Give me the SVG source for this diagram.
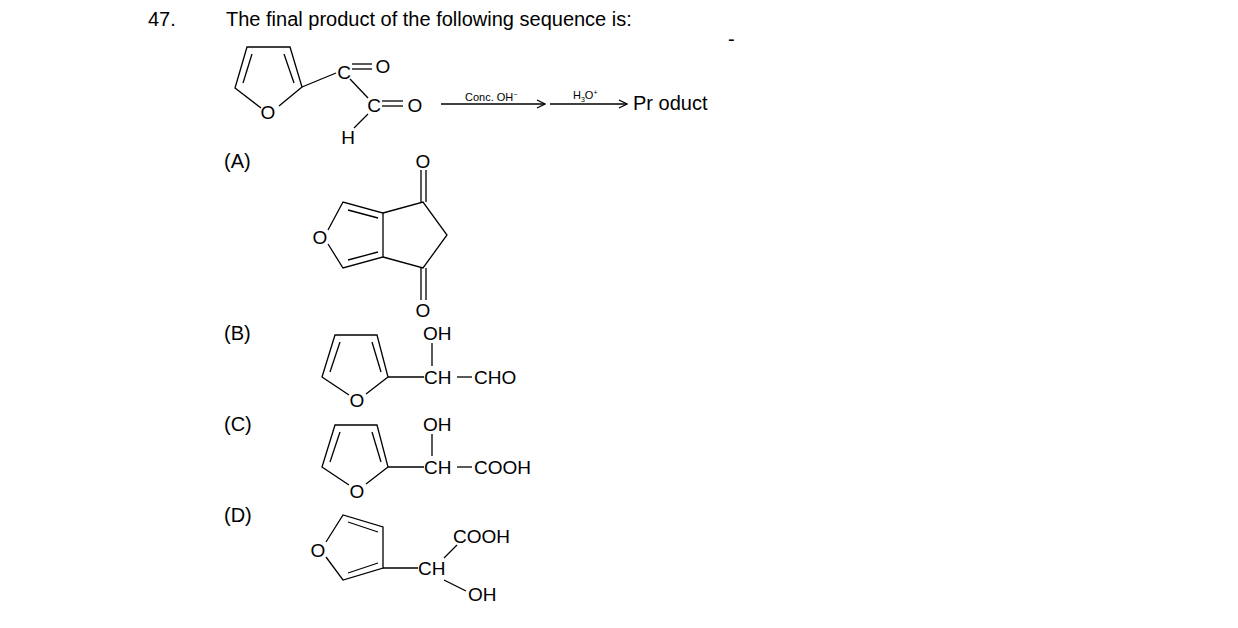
<svg xmlns="http://www.w3.org/2000/svg" width="1238" height="628" viewBox="0 0 1238 628">
<style>
text{font-family:"Liberation Sans",Arial,sans-serif;fill:#000}
.t{font-size:20px}
.c{font-size:19px}
.s{font-size:11px}
line,polyline,path{stroke:#000;stroke-width:1.3;fill:none}
</style>
<defs><marker id="ah" markerWidth="10" markerHeight="10" refX="9" refY="5" orient="auto" markerUnits="userSpaceOnUse"><path d="M1,1 L9,5 L1,9"/></marker></defs>
<rect width="1238" height="628" fill="#fff"/>
<g id="header"><text class="t" x="148" y="26">47.</text><text class="t" x="226" y="26">The final product of the following sequence is:</text><text class="t" x="728" y="46">-</text></g>
<g id="reactant">
<polyline points="261,108 235,88 247,47 290,47 302,87 279,106"/>
<line x1="252" y1="54" x2="243" y2="83"/><line x1="284" y1="54" x2="294" y2="83"/>
<text class="c" x="268" y="119" text-anchor="middle">O</text>
<line x1="302" y1="87" x2="336" y2="73"/>
<text class="c" x="344" y="79" text-anchor="middle">C</text>
<line x1="352" y1="64" x2="372" y2="64"/><line x1="352" y1="69" x2="372" y2="69"/>
<text class="c" x="383" y="73" text-anchor="middle">O</text>
<line x1="350" y1="79" x2="368" y2="98"/>
<text class="c" x="374" y="112" text-anchor="middle">C</text>
<line x1="382" y1="101" x2="403" y2="101"/><line x1="382" y1="106" x2="403" y2="106"/>
<text class="c" x="415" y="112" text-anchor="middle">O</text>
<line x1="354" y1="128" x2="368" y2="114"/>
<text class="c" x="348" y="144" text-anchor="middle">H</text>
</g>
<g id="connectors">
<line x1="441" y1="104" x2="545" y2="104" marker-end="url(#ah)"/>
<line x1="550" y1="104" x2="627" y2="104" marker-end="url(#ah)"/>
</g>
<g id="reagents">
<text class="s" x="465" y="101">Conc. OH<tspan dy="-4" font-size="7">−</tspan></text>
<text class="s" x="573" y="99">H<tspan dy="3" font-size="7">3</tspan><tspan dy="-3">O</tspan><tspan dy="-4" font-size="7">+</tspan></text>
<text class="t" x="633" y="110">Pr oduct</text>
</g>
<g id="optA">
<text class="t" x="224" y="168">(A)</text>
<text class="c" x="320" y="244" text-anchor="middle">O</text>
<polyline points="328,230 343,202 383,213 383,257 343,268 328,244"/>
<line x1="348" y1="210" x2="378" y2="218"/><line x1="348" y1="260" x2="378" y2="252"/>
<polyline points="383,213 423,202 447,235 423,268 383,257"/>
<line x1="421" y1="202" x2="421" y2="170"/><line x1="426" y1="202" x2="426" y2="170"/>
<line x1="421" y1="268" x2="421" y2="300"/><line x1="426" y1="268" x2="426" y2="300"/>
<text class="c" x="423" y="168" text-anchor="middle">O</text>
<text class="c" x="423" y="317" text-anchor="middle">O</text>
</g>
<g id="optB">
<text class="t" x="224" y="340">(B)</text>
<polyline points="349,395 322,377 335,335 377,335 388,377 366,394"/>
<line x1="340" y1="342" x2="330" y2="372"/><line x1="372" y1="342" x2="381" y2="372"/>
<text class="c" x="357" y="407" text-anchor="middle">O</text>
<line x1="388" y1="377" x2="424" y2="377"/>
<line x1="432" y1="343" x2="432" y2="366"/>
<text class="c" x="423" y="340">OH</text>
<text class="c" x="424" y="384">CH</text>
<line x1="457" y1="377" x2="472" y2="377"/>
<text class="c" x="474" y="384">CHO</text>
</g>
<g id="optC">
<text class="t" x="224" y="431">(C)</text>
<polyline points="349,485 322,467 335,425 377,425 388,467 366,484"/>
<line x1="340" y1="432" x2="330" y2="462"/><line x1="372" y1="432" x2="381" y2="462"/>
<text class="c" x="357" y="498" text-anchor="middle">O</text>
<line x1="388" y1="467" x2="424" y2="467"/>
<line x1="432" y1="434" x2="432" y2="456"/>
<text class="c" x="423" y="431">OH</text>
<text class="c" x="424" y="474">CH</text>
<line x1="457" y1="467" x2="472" y2="467"/>
<text class="c" x="474" y="474">COOH</text>
</g>
<g id="optD">
<text class="t" x="224" y="522">(D)</text>
<text class="c" x="318" y="557" text-anchor="middle">O</text>
<polyline points="326,542 343,515 383,527 383,568 343,580 326,557"/>
<line x1="348" y1="522" x2="378" y2="532"/><line x1="348" y1="573" x2="378" y2="563"/>
<line x1="383" y1="568" x2="418" y2="568"/>
<text class="c" x="418" y="575">CH</text>
<line x1="444" y1="558" x2="457" y2="545"/>
<text class="c" x="453" y="543">COOH</text>
<line x1="444" y1="580" x2="466" y2="591"/>
<text class="c" x="468" y="601">OH</text>
</g>
</svg>
